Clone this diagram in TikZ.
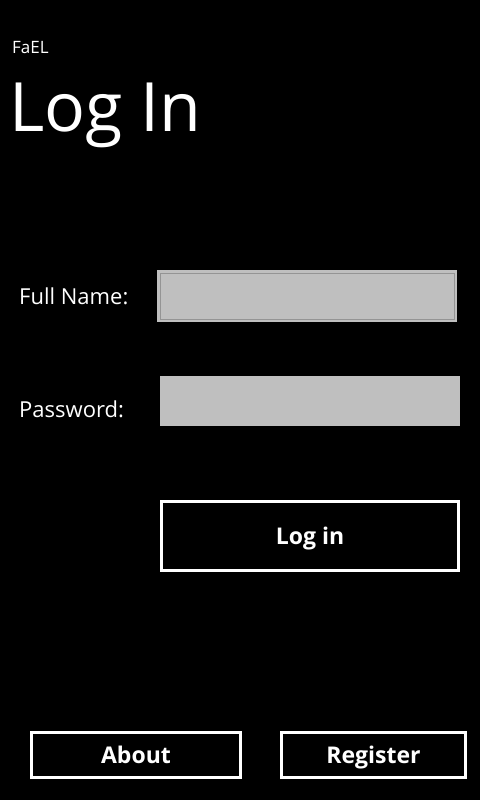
\documentclass[tikz,border=0pt]{standalone}
\usepackage{fontspec}
\setmainfont{Open Sans}
\usepackage{tikz}
\usetikzlibrary{positioning}
\def\boxcol{black!25}
\def\rimcol{black!42}
\tikzset{
	label text/.style={white,inner sep=0pt,anchor=base west,font=\fontsize{22}{26}\selectfont},
	field/.style={fill=\boxcol,draw=none,inner sep=0pt},
	button/.style={draw=white,line width=3pt,fill=black,text=white,inner sep=0pt,
		text height=17pt,text depth=0pt,font=\fontsize{23}{28}\selectfont\bfseries}}
\begin{document}
\begin{tikzpicture}[x=1pt,y=-1pt]
\useasboundingbox (0,0) rectangle (480,800);
\fill[black] (0,0) rectangle (480,800);
% header
\node [white,inner sep=0pt,anchor=base west,font=\fontsize{17}{19}\selectfont] (fael) at (12,53) {FaEL};
\node [white,inner sep=0pt,anchor=base west,font=\fontsize{68}{80}\selectfont] (title) at (9,131) {Log In};
% form
\node [label text] (namelabel) at (19,304) {Full Name:};
\node [field,minimum width=300pt,minimum height=52pt] (namebox) at (307,296) {};
\draw [\rimcol,line width=0.6pt] ([shift={(3pt,3pt)}]namebox.south west) rectangle ([shift={(-3pt,-3pt)}]namebox.north east);
\node [label text] (pwlabel) at (19,417) {Password:};
\node [field,minimum width=300pt,minimum height=50pt] (pwbox) at (310,401) {};
% buttons
\node [button,minimum width=297pt,minimum height=69pt] (loginbtn) at (310,536) {Log in};
\node [button,minimum width=209pt,minimum height=45pt] (aboutbtn) at (136,755) {About};
\node [button,minimum width=184pt,minimum height=45pt] (registerbtn) at (373.5,755) {Register};
\end{tikzpicture}
\end{document}
